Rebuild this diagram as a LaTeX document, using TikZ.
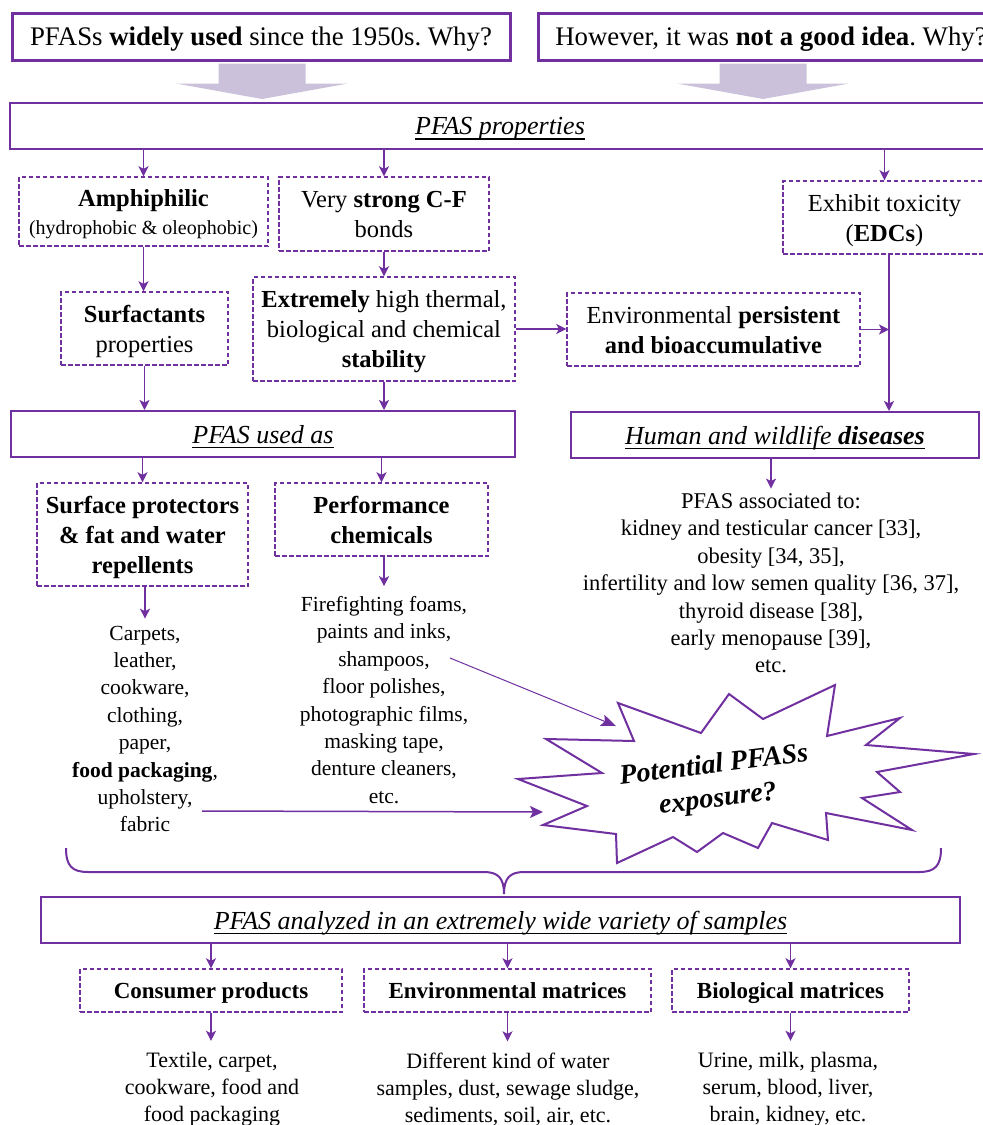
\documentclass[tikz,border=0pt]{standalone}
\usepackage{fontspec}
\setmainfont{Liberation Serif}
\usetikzlibrary{arrows.meta,calc}
\definecolor{pur}{RGB}{112,48,160}
\definecolor{lav}{RGB}{204,193,218}
\newcommand{\fsz}[2]{\fontsize{#1}{#2}\selectfont}
\frenchspacing
% underline drawn at a fixed depth below the baseline
\newsavebox{\ulinebox}
\newcommand{\uln}[1]{\sbox{\ulinebox}{#1}\rlap{\rule[-5pt]{\wd\ulinebox}{1.4pt}}\usebox{\ulinebox}}

\begin{document}
\begin{tikzpicture}[x=1pt,y=-1pt,
  box/.style={draw=pur, fill=white, inner sep=0pt, align=center, text=black, text depth=0pt},
  headbox/.style={box, line width=3pt, font=\fsz{26.8}{32}},
  titlebox/.style={box, line width=2pt, font=\fsz{26}{30}\itshape},
  dashbox/.style={box, line width=1.4pt, dash pattern=on 4.5pt off 2.5pt, font=\fsz{24.5}{30}, text depth=-2pt},
  samplebox/.style={dashbox, font=\fsz{23}{28}\bfseries, text depth=0pt},
  listtext/.style={inner sep=0pt, align=center, font=\fsz{21.5}{27.4}},
  reftext/.style={inner sep=0pt, align=center, font=\fsz{22.5}{27.4}},
  arr/.style={draw=pur, line width=1.6pt, -{Stealth[length=10pt,width=10pt,inset=2.5pt]}},
  thinarr/.style={draw=pur, line width=1pt, -{Stealth[length=15pt,width=12pt,inset=3pt]}},
  midarr/.style={draw=pur, line width=1.5pt, -{Stealth[length=13pt,width=12pt,inset=3pt]}},
  burst/.style={draw=pur, line width=2pt, fill=white, line join=miter},
]
\useasboundingbox (0,0) rectangle (983,1125);
\fill[white] (0,0) rectangle (983,1125);
\clip (0,0) rectangle (983,1125);

% opening questions
\node[headbox, minimum width=498, minimum height=47] (h1) at (261,36.5)
  {PFASs \textbf{widely used} since the 1950s. Why?};
\node[headbox, minimum width=466, minimum height=47] (h2) at (771,36.5)
  {However, it was \textbf{not a good idea}. Why?};

% properties banner
\node[titlebox, minimum width=980, minimum height=46] (props) at (500,126)
  {\uln{PFAS properties}};

% wide block arrows from the questions to the banner
\coordinate (a1) at ($(h1.south)+(1,0)$);
\coordinate (a2) at ($(h2.south)+(-8,0)$);
\foreach \c in {a1,a2}{
  \fill[lav] ($(\c)+(-43.5,2)$) -- ($(\c)+(43.5,2)$) -- ($(\c)+(43.5,22)$)
    -- ($(\c)+(86,22)$) -- ($(props.north -| \c)+(0,-3)$)
    -- ($(\c)+(-86,22)$) -- ($(\c)+(-43.5,22)$) -- cycle;
}

% properties
\node[dashbox, minimum width=249, minimum height=69] (amph) at (143.5,211.5)
  {\textbf{Amphiphilic}\\[-2pt]{\fsz{20}{28}(hydrophobic \& oleophobic)}};
\node[dashbox, minimum width=210, minimum height=74] (cf) at (384,214)
  {Very \textbf{strong C-F}\\bonds};
\node[dashbox, minimum width=203, minimum height=73] (tox) at (884.5,217.5)
  {Exhibit toxicity\\(\textbf{EDCs})};
\node[dashbox, minimum width=167, minimum height=73] (surf) at (144.5,328.5)
  {\textbf{Surfactants}\\properties};
\node[dashbox, minimum width=262, minimum height=104] (stab) at (384,329)
  {\textbf{Extremely} high thermal,\\biological and chemical\\\textbf{stability}};
\node[dashbox, minimum width=293, minimum height=73] (env) at (713.5,329.5)
  {Environmental \textbf{persistent}\\\textbf{and bioaccumulative}};

% uses and effects
\node[titlebox, minimum width=504, minimum height=46] (used) at (263,434)
  {\uln{PFAS used as}};
\node[titlebox, minimum width=408, minimum height=46] (dis) at (775,435)
  {\uln{Human and wildlife \textbf{diseases}}};
\node[dashbox, font=\fsz{24.5}{30}\bfseries, minimum width=211, minimum height=103] (prot) at (142.5,534.5)
  {Surface protectors\\\& fat and water\\repellents};
\node[dashbox, font=\fsz{24.5}{30}\bfseries, minimum width=213, minimum height=73] (perf) at (381.5,519.5)
  {Performance\\chemicals};

\node[reftext] (assoc) at (771,583)
  {PFAS associated to:\\kidney and testicular cancer [33],\\obesity [34, 35],\\infertility and low semen quality [36, 37],\\thyroid disease [38],\\early menopause [39],\\etc.};
\node[listtext] (l1) at (145,729)
  {Carpets,\\leather,\\cookware,\\clothing,\\paper,\\\textbf{food packaging},\\upholstery,\\fabric};
\node[listtext] (l2) at (384,700)
  {Firefighting foams,\\paints and inks,\\shampoos,\\floor polishes,\\photographic films,\\masking tape,\\denture cleaners,\\etc.};

% exposure starburst
\draw[burst] (518,779) -- (602,773) -- (546,739) -- (634,741) -- (618,703)
  -- (701,733) -- (729,694) -- (763,719) -- (835,685) -- (827,736)
  -- (900,718) -- (866,745) -- (974,754) -- (877,772) -- (900,792)
  -- (862,798) -- (912,830) -- (826,813) -- (828,840) -- (772,823)
  -- (758,848) -- (723,833) -- (697,852) -- (673,837) -- (617,863)
  -- (616,834) -- (543,825) -- (587,806) -- cycle;
\node[inner sep=0pt, align=center, rotate=7, font=\fsz{28}{34}\bfseries\itshape] (expo) at (716,783)
  {Potential PFASs\\exposure?};
\coordinate (shp) at (450,658);
\coordinate (bt1) at (616,726);
\coordinate (uph) at (202,811);
\coordinate (bt2) at (543,812);
\draw[thinarr] (shp) -- (bt1);
\draw[midarr] (uph) -- (bt2);

% brace gathering everything
\draw[pur, line width=2pt]
  (66,848) .. controls (66,866) and (72,872) .. (88,872) -- (484,872)
  .. controls (498,872) and (504,878) .. (504,894)
  (941,848) .. controls (941,866) and (935,872) .. (919,872) -- (524,872)
  .. controls (510,872) and (504,878) .. (504,894);

% analysed samples
\node[titlebox, minimum width=919, minimum height=46] (anal) at (500.5,920)
  {\uln{PFAS analyzed in an extremely wide variety of samples}};
\node[samplebox, minimum width=262, minimum height=43] (cons) at (211,990.5) {Consumer products};
\node[samplebox, minimum width=287, minimum height=43] (envm) at (507.5,990.5) {Environmental matrices};
\node[samplebox, minimum width=237, minimum height=43] (bio) at (790.5,990.5) {Biological matrices};
\node[reftext, font=\fsz{22}{27}] (t1) at (212,1089) {Textile, carpet,\\cookware, food and\\food packaging};
\node[reftext, font=\fsz{22}{27}] (t2) at (508,1089) {Different kind of water\\samples, dust, sewage sludge,\\sediments, soil, air, etc.};
\node[reftext, font=\fsz{22}{27}] (t3) at (788,1089) {Urine, milk, plasma,\\serum, blood, liver,\\brain, kidney, etc.};

% connectors
\draw[arr] (props.south -| amph.north) -- (amph.north);
\draw[arr] (props.south -| cf.north) -- (cf.north);
\draw[arr] (props.south -| tox.north) -- (tox.north);
\draw[arr] (amph.south) -- (amph.south |- surf.north);
\draw[arr] (cf.south) -- (cf.south |- stab.north);
\draw[arr] (stab.east) -- (stab.east -| env.west);
\coordinate (tj) at ($(tox.south)+(4.5,0)$);
\draw[arr] (env.east) -- (env.east -| tj);
\draw[arr] (tj) -- (tj |- dis.north);
\draw[arr] (surf.south) -- (surf.south |- used.north);
\draw[arr] (stab.south) -- (stab.south |- used.north);
\draw[arr] (used.south -| prot.north) -- (prot.north);
\draw[arr] (used.south -| perf.north) -- (perf.north);
\draw[arr, shorten >=4pt] (assoc.north |- dis.south) -- (assoc.north);
\draw[arr, shorten >=7pt] (prot.south -| l1.north) -- (l1.north);
\draw[arr, shorten >=10pt] (perf.south -| l2.north) -- (l2.north);
\draw[arr] (anal.south -| cons.north) -- (cons.north);
\draw[arr] (anal.south -| envm.north) -- (envm.north);
\draw[arr] (anal.south -| bio.north) -- (bio.north);
\draw[arr, shorten >=11pt] (cons.south) -- (cons.south |- t1.north);
\draw[arr, shorten >=11pt] (envm.south) -- (envm.south |- t2.north);
\draw[arr, shorten >=11pt] (bio.south) -- (bio.south |- t3.north);
\end{tikzpicture}
\end{document}
